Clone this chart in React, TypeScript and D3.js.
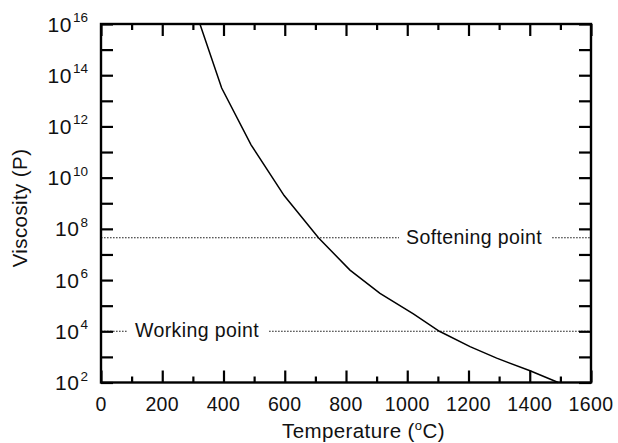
import React, { useEffect, useRef } from "react";
import * as d3 from "d3";

// Viscosity–temperature curve of a soda-lime glass (log10 of viscosity in poise)
const temperatures = [323, 394, 490, 598, 710, 813, 911, 1020, 1105, 1205, 1292, 1401, 1493];
const logViscosity = [16, 13.5, 11.28, 9.3, 7.65, 6.39, 5.48, 4.68, 4.0, 3.4, 2.95, 2.46, 2.0];

// Reference viscosity levels and where their labels begin (°C)
const refNames = ["Softening point", "Working point"];
const refLogViscosity = [7.65, 4.0];
const refLabelStart = [996, 111];

// Axis ticks
const xMajorTicks = [0, 200, 400, 600, 800, 1000, 1200, 1400, 1600];
const xMinorTicks = [100, 300, 500, 700, 900, 1100, 1300, 1500];
const yTickExponents = [2, 3, 4, 5, 6, 7, 8, 9, 10, 11, 12, 13, 14, 15, 16];
const yLabelExponents = [2, 4, 6, 8, 10, 12, 14, 16];

const W = 618;
const H = 443;
const M = { left: 101, right: 591, top: 24, bottom: 382.5 };
const FONT = "'Liberation Sans', Arial, Helvetica, sans-serif";
const LABEL_SIZE = 19.5;
const LABEL_SPACING = 0.4;

function textWidth(s: string, size: number, spacing: number): number {
  const c = document.createElement("canvas").getContext("2d");
  if (!c) return s.length * size * 0.55;
  c.font = `${size}px 'Liberation Sans', Arial, sans-serif`;
  return c.measureText(s).width + spacing * s.length;
}

const x = d3.scaleLinear().domain([0, 1600]).range([M.left, M.right]);
const y = d3.scaleLog().domain([1e2, 1e16]).range([M.bottom, M.top]);

export default function App() {
  const axesRef = useRef<SVGGElement | null>(null);

  useEffect(() => {
    const g = d3.select(axesRef.current);
    g.selectAll("*").remove();
    const yTicks = yTickExponents.map((e) => Math.pow(10, e));
    const style = (sel: d3.Selection<SVGGElement, unknown, null, undefined>) => {
      sel.select(".domain").remove();
      sel.selectAll("text").remove();
      sel.selectAll("line").attr("stroke", "#000").attr("stroke-width", 2.2);
    };
    const add = (tr: string, axis: d3.Axis<any>) => {
      const a = g.append("g").attr("transform", tr).call(axis as any);
      style(a as any);
    };
    add(`translate(0,${M.bottom})`, d3.axisBottom(x).tickValues(xMajorTicks).tickSize(-12));
    add(`translate(0,${M.bottom})`, d3.axisBottom(x).tickValues(xMinorTicks).tickSize(-6));
    add(`translate(0,${M.top})`, d3.axisTop(x).tickValues(xMajorTicks).tickSize(-12));
    add(`translate(0,${M.top})`, d3.axisTop(x).tickValues(xMinorTicks).tickSize(-6));
    add(`translate(${M.left},0)`, d3.axisLeft(y).tickValues(yTicks).tickSize(-12));
    add(`translate(${M.right},0)`, d3.axisRight(y).tickValues(yTicks).tickSize(-12));
  }, []);

  const pts = temperatures.map((t, i) => [t, Math.pow(10, logViscosity[i])] as [number, number]);
  const curve =
    d3
      .line<[number, number]>()
      .x((d) => x(d[0]))
      .y((d) => y(d[1]))
      .curve(d3.curveLinear)(pts) ?? "";

  return (
    <svg
      width={W}
      height={H}
      viewBox={`0 0 ${W} ${H}`}
      style={{ position: "absolute", left: 0, top: 0, background: "#fff" }}
      fontFamily={FONT}
    >
      {/* Reference levels */}
      {refNames.map((name, i) => {
        const yy = y(Math.pow(10, refLogViscosity[i]));
        const tx = x(refLabelStart[i]);
        const len = textWidth(name, LABEL_SIZE, LABEL_SPACING);
        return (
          <g key={name}>
            <line x1={M.left} x2={tx - 7} y1={yy} y2={yy} stroke="#222" strokeWidth={1.1} strokeDasharray="1.6,1.4" />
            <line x1={tx + len + 10} x2={M.right} y1={yy} y2={yy} stroke="#222" strokeWidth={1.1} strokeDasharray="1.6,1.4" />
            <text x={tx} y={yy + 6} fontSize={LABEL_SIZE} letterSpacing={LABEL_SPACING} fill="#111">
              {name}
            </text>
          </g>
        );
      })}

      {/* Viscosity curve */}
      <path d={curve} fill="none" stroke="#000" strokeWidth={1.5} />

      {/* Frame */}
      <rect
        x={M.left}
        y={M.top}
        width={M.right - M.left}
        height={M.bottom - M.top}
        fill="none"
        stroke="#000"
        strokeWidth={2.4}
      />

      {/* Inward tick marks */}
      <g ref={axesRef} />

      {/* X tick labels */}
      {xMajorTicks.map((t) => (
        <text
          key={`xl${t}`}
          x={x(t)}
          y={410.5}
          textAnchor="middle"
          fontSize={LABEL_SIZE}
          letterSpacing={LABEL_SPACING}
          fill="#111"
        >
          {t}
        </text>
      ))}

      {/* Y tick labels */}
      {yLabelExponents.map((e) => (
        <text key={`yl${e}`} x={88} y={y(Math.pow(10, e)) + 7.5} textAnchor="end" fill="#111">
          <tspan fontSize={21} letterSpacing={0.6}>10</tspan>
          <tspan fontSize={13.5} dx={1} dy={-9.5}>{e}</tspan>
        </text>
      ))}

      {/* Axis titles */}
      <text x={282} y={438} fontSize={20.5} letterSpacing={0.4} fill="#111">
        <tspan>Temperature (</tspan>
        <tspan fontSize={13} dy={-8}>o</tspan>
        <tspan dy={8}>C)</tspan>
      </text>
      <text
        transform="translate(27,208) rotate(-90)"
        textAnchor="middle"
        fontSize={20.5}
        letterSpacing={0.4}
        fill="#111"
      >
        Viscosity (P)
      </text>
    </svg>
  );
}
